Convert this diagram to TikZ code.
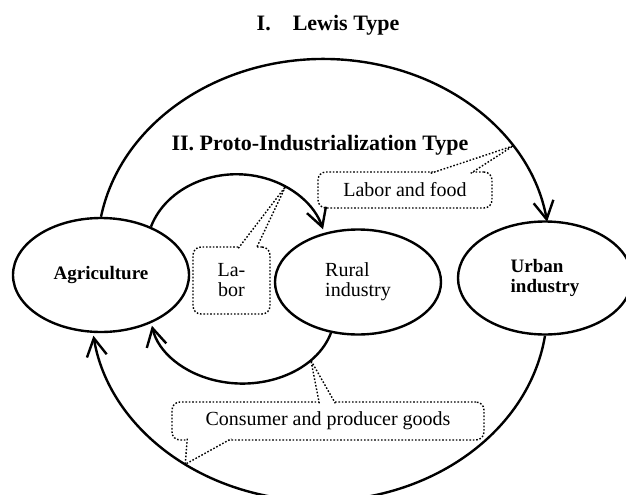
\documentclass[tikz,border=0pt]{standalone}
\usepackage{fontspec}
\setmainfont{Liberation Serif}
\usetikzlibrary{shapes.geometric,arrows.meta,calc}

\begin{document}
\begin{tikzpicture}[x=0.5pt, y=0.5pt,
    sector/.style = {draw, ellipse, very thick, inner sep=0pt, align=left,
        font=\fontsize{10}{10}\selectfont},
    note/.style = {draw, dash pattern=on 0.8pt off 0.9pt, line width=0.7pt,
        rounded corners=4pt, inner sep=0pt, align=center,
        font=\fontsize{10}{10}\selectfont},
    pointer/.style = {dash pattern=on 0.8pt off 0.9pt, line width=0.7pt, fill=white},
    flow/.style = {very thick, -{Straight Barb[length=9pt, width=10pt]}},
    heading/.style = {font=\fontsize{11}{13}\bfseries\selectfont}]
    \useasboundingbox (0,0) rectangle (626,494);

    % titles
    \node[heading] (lewis) at (328, 469) {I.\quad Lewis Type};
    \node[heading] (proto) at (320, 349) {II. Proto-Industrialization Type};

    % sectors
    \node[sector, minimum width=88pt, minimum height=57pt,
        font=\fontsize{9.5}{10}\bfseries\selectfont] (agri) at (101, 219) {Agriculture};
    \node[sector, minimum width=83pt, minimum height=52.5pt] (rural) at (358, 212) {Rural\\industry};
    \node[sector, minimum width=87pt, minimum height=56.5pt,
        font=\fontsize{9.5}{10}\bfseries\selectfont] (urban) at (545, 216) {Urban\\industry};

    % dotted labels
    \node[note, minimum width=38.5pt, minimum height=33.5pt] (labor) at (231.5, 213.5) {La-\\bor};
    \node[note, minimum width=87pt, minimum height=18pt] (labfood) at (405, 304) {Labor and food};
    \node[note, minimum width=156pt, minimum height=19pt] (goods) at (328, 73) {Consumer and producer goods};

    % points the labels refer to
    \path (agri.north) arc[start angle=170, end angle=33, x radius=113pt, y radius=95.5pt] coordinate (tipLF);
    \path (agri.44) arc[start angle=162, end angle=57, x radius=45pt, y radius=38pt] coordinate (tipL);
    \path (rural.242) arc[start angle=-16, end angle=-42, x radius=46pt, y radius=35pt] coordinate (tipG);
    \path (urban.south) arc[start angle=-8, end angle=-126, x radius=114pt, y radius=96pt] coordinate (tipGU);

    \draw[pointer] ($(labor.north west)+(46,-2)$) -- (tipL) -- ($(labor.north west)+(64,-2)$);
    \draw[pointer] ($(labfood.north east)+(-62,-2)$) -- (tipLF) -- ($(labfood.north east)+(-22,-2)$);
    \draw[pointer] ($(goods.north west)+(148,-2)$) -- (tipG) -- ($(goods.north west)+(164,-2)$);
    \draw[pointer] ($(goods.south west)+(16,2)$) -- (tipGU) -- ($(goods.south west)+(60,2)$);

    % flows
    \draw[flow] (agri.north) arc[start angle=170, end angle=8.5, x radius=113pt, y radius=95.5pt];
    \draw[flow] (agri.44) arc[start angle=162, end angle=16, x radius=45pt, y radius=38pt];
    \draw[flow] (rural.242) arc[start angle=-16, end angle=-170, x radius=46pt, y radius=35pt];
    \draw[flow] (urban.south) arc[start angle=-8, end angle=-172, x radius=114pt, y radius=96pt];
\end{tikzpicture}
\end{document}
